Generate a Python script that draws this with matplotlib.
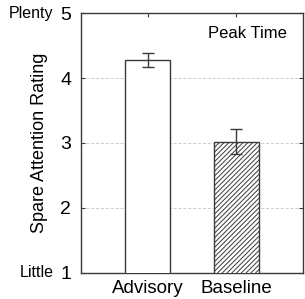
import numpy as np
import matplotlib
matplotlib.use("Agg")
import matplotlib.pyplot as plt

# ─── Data ───────────────────────────────────────────────────────────────────
CONDITIONS = ["Advisory", "Baseline"]
MEANS = [4.28, 3.02]
ERRORS = [0.11, 0.19]
YTICKS = [1, 2, 3, 4, 5]
END_WORDS = {1: "Little", 5: "Plenty"}

FONT = "Liberation Sans"
LINE = "#3a3a3a"

plt.rcParams["font.family"] = FONT
plt.rcParams["hatch.linewidth"] = 0.7
plt.rcParams["hatch.color"] = LINE

fig = plt.figure(figsize=(3.05, 2.99), dpi=100, facecolor="white")
ax = fig.add_axes([0.2656, 0.087, 0.7278, 0.8695])

x = np.arange(1, len(CONDITIONS) + 1)
ax.bar(x[0], MEANS[0], width=0.5, bottom=0, color="white",
       edgecolor=LINE, linewidth=1.0, zorder=3)
ax.bar(x[1], MEANS[1], width=0.5, bottom=0, color="white",
       edgecolor=LINE, linewidth=1.0, hatch="///////", zorder=3)
ax.errorbar(x, MEANS, yerr=ERRORS, fmt="none", ecolor=LINE,
            elinewidth=1.0, capsize=4, capthick=1.0, zorder=4)

ax.set_xlim(0.25, 2.75)
ax.set_ylim(1, 5)
ax.set_xticks(x)
ax.set_xticklabels(CONDITIONS, fontsize=13.5)
ax.set_yticks(YTICKS)
ax.set_yticklabels([str(t) for t in YTICKS], fontsize=14)

# scale end words beside the 1 and 5 labels
for val, word in END_WORDS.items():
    ax.text(-0.125, val, word, transform=ax.get_yaxis_transform(),
            ha="right", va="center", fontsize=11.5)

ax.tick_params(direction="in", top=True, right=True, length=3,
               width=0.8, color=LINE)
ax.tick_params(axis="x", pad=5)
ax.tick_params(axis="y", pad=7)
ax.yaxis.grid(True, linestyle=(0, (3, 2)), color="#cccccc", linewidth=0.7)
ax.set_axisbelow(True)
for sp in ax.spines.values():
    sp.set_color(LINE)
    sp.set_linewidth(1.0)

ax.set_ylabel("Spare Attention Rating", fontsize=13)
ax.yaxis.set_label_coords(-0.15, 0.5)
ax.text(0.928, 0.923, "Peak Time", transform=ax.transAxes, ha="right",
        va="center", fontsize=12)

fig.savefig("out.png", dpi=100, facecolor="white")
